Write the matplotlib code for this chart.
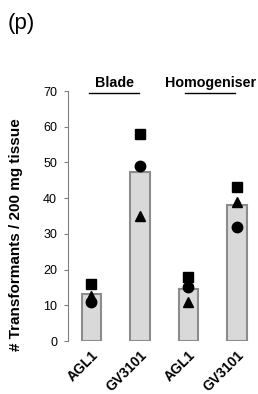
import numpy as np
import matplotlib.pyplot as plt
from matplotlib.transforms import ScaledTranslation

plt.rcParams['font.family'] = ['Liberation Sans', 'DejaVu Sans']

strains = ['AGL1', 'GV3101', 'AGL1', 'GV3101']
groups = ['Blade', 'Homogeniser']
means = [13.3, 47.3, 14.6, 38.0]
rep_square = [16, 58, 18, 43]
rep_circle = [11, 49, 15, 32]
rep_triangle = [12.5, 35, 11, 39]

fig = plt.figure(figsize=(2.58, 3.94), dpi=100)
ax = fig.add_axes([0.264, 0.1345, 0.72, 0.6345])

x = np.arange(len(strains))
ax.bar(x, means, width=0.4, color='#d9d9d9', edgecolor='#8c8c8c', linewidth=1.5, zorder=1)
ax.plot(x, rep_square, 's', color='black', markersize=7, zorder=3)
ax.plot(x, rep_circle, 'o', color='black', markersize=7.5, zorder=3)
ax.plot(x, rep_triangle, '^', color='black', markersize=7, zorder=3)

ax.set_xlim(-0.48, 3.35)
ax.set_ylim(0, 70)
ax.set_yticks(range(0, 71, 10))
ax.set_xticks(x)
ax.set_xticklabels(strains, rotation=45, ha='right', rotation_mode='anchor',
                   fontweight='bold', fontsize=10)
shift = ScaledTranslation(0.12, 0, fig.dpi_scale_trans)
for lbl in ax.get_xticklabels():
    lbl.set_transform(lbl.get_transform() + shift)
ax.tick_params(axis='x', length=0, pad=5)
ax.tick_params(axis='y', labelsize=9, length=3, pad=5, color='#808080')
for s in ['top', 'right', 'bottom']:
    ax.spines[s].set_visible(False)
ax.spines['left'].set_color('#808080')
ax.set_ylabel('# Transformants / 200 mg tissue', fontweight='bold', fontsize=11)
ax.yaxis.set_label_coords(-0.242, 0.424)

# group labels with underline
for cx, g in zip([0.47, 2.45], groups):
    ax.text(cx, 72.3, g, ha='center', va='center', fontweight='bold', fontsize=10.3,
            clip_on=False)
    ax.plot([cx - 0.52, cx + 0.52], [69.4, 69.4], color='black', lw=1, clip_on=False)

fig.text(0.031, 0.94, '(p)', fontsize=16, ha='left', va='center')

fig.savefig('out.png', dpi=100)
